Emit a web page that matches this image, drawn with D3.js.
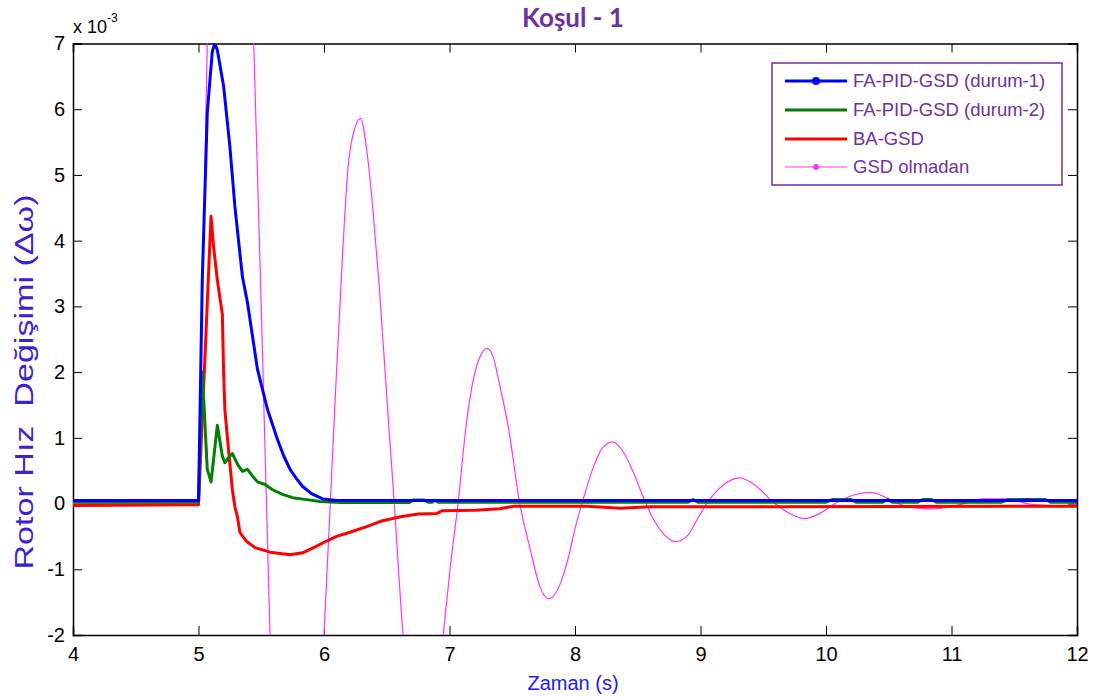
<!DOCTYPE html>
<html>
<head>
<meta charset="utf-8">
<script src="https://cdn.jsdelivr.net/npm/d3@7"></script>
<style>
  html, body { margin: 0; padding: 0; background: #fff; }
  svg { display: block; }
  text { font-family: "Liberation Sans", Arial, sans-serif; }
</style>
</head>
<body>
<svg id="chart" width="1093" height="697"></svg>
<script>
// ---- Data (values in units of 1e-3) ----
const titleText = "Koşul - 1";
const xLabel = "Zaman (s)";
const yLabel = "Rotor Hız  Değişimi (Δω)";
const xTicks = [4, 5, 6, 7, 8, 9, 10, 11, 12];
const yTicks = [-2, -1, 0, 1, 2, 3, 4, 5, 6, 7];
const seriesNames = ["FA-PID-GSD (durum-1)", "FA-PID-GSD (durum-2)", "BA-GSD", "GSD olmadan"];

const blueData = [[4,0.045],[5.0,0.045],[5.03,3.4],[5.07,5.95],[5.11,6.88],[5.13,7.0],[5.15,6.9],[5.2,6.35],[5.23,5.8],[5.25,5.43],[5.29,4.52],[5.35,3.45],[5.39,3.06],[5.43,2.55],[5.47,2.04],[5.55,1.43],[5.63,0.97],[5.68,0.72],[5.73,0.52],[5.78,0.38],[5.83,0.26],[5.9,0.15],[5.99,0.07],[6.1,0.045],[12,0.045]];

const greenData = [[4,0.025],[5.0,0.025],[5.03,2.0],[5.07,0.52],[5.1,0.33],[5.15,1.19],[5.19,0.72],[5.21,0.62],[5.24,0.7],[5.27,0.76],[5.31,0.6],[5.35,0.49],[5.39,0.52],[5.43,0.42],[5.47,0.33],[5.53,0.29],[5.59,0.21],[5.67,0.14],[5.75,0.09],[5.86,0.06],[5.97,0.03],[6.13,0.015],[6.68,0.015],[6.71,0.055],[6.79,0.055],[6.83,0.02],[6.86,0.02],[6.88,0.05],[6.91,0.02],[8.9,0.02],[8.94,0.06],[8.98,0.02],[10.0,0.02],[10.05,0.06],[10.2,0.06],[10.24,0.02],[10.45,0.02],[10.49,0.06],[10.53,0.02],[10.73,0.02],[10.77,0.06],[10.84,0.06],[10.88,0.02],[11.4,0.02],[11.45,0.06],[11.75,0.06],[11.79,0.02],[12,0.02]];

const redData = [[4,-0.03],[5.0,-0.02],[5.03,1.3],[5.06,2.6],[5.08,3.5],[5.1,4.37],[5.12,3.91],[5.15,3.4],[5.19,2.88],[5.2,2.0],[5.21,1.43],[5.24,0.8],[5.27,0.21],[5.29,-0.05],[5.31,-0.2],[5.33,-0.44],[5.38,-0.57],[5.45,-0.67],[5.57,-0.74],[5.73,-0.78],[5.83,-0.75],[5.93,-0.66],[6.02,-0.57],[6.1,-0.5],[6.2,-0.44],[6.34,-0.35],[6.45,-0.27],[6.61,-0.2],[6.75,-0.16],[6.9,-0.15],[6.94,-0.11],[7.2,-0.1],[7.4,-0.08],[7.51,-0.04],[8.1,-0.04],[8.36,-0.07],[8.6,-0.05],[12,-0.04]];

const magentaData = [[4,0],[5.0,0],[5.02,2.0],[5.05,5.0],[5.07,7.0],[5.12,11.0],[5.18,14.0],[5.25,15.0],[5.32,13.5],[5.38,10.5],[5.44,7.0],[5.5,3.0],[5.57,-2.0],[5.64,-5.5],[5.72,-7.6],[5.78,-8.0],[5.85,-7.2],[5.93,-5.0],[6.0,-2.0],[6.05,0.0],[6.09,1.63],[6.15,3.87],[6.19,5.08],[6.25,5.74],[6.29,5.86],[6.34,5.39],[6.39,4.47],[6.44,3.31],[6.5,1.63],[6.56,0.0],[6.63,-2.0],[6.7,-3.2],[6.79,-3.8],[6.87,-3.3],[6.95,-2.0],[7.01,-0.9],[7.07,0.03],[7.13,1.15],[7.19,1.89],[7.24,2.22],[7.3,2.36],[7.35,2.22],[7.39,1.89],[7.47,1.15],[7.56,0.0],[7.64,-0.67],[7.72,-1.26],[7.79,-1.45],[7.84,-1.38],[7.89,-1.18],[7.95,-0.8],[8.0,-0.38],[8.06,0.03],[8.14,0.52],[8.22,0.85],[8.3,0.94],[8.38,0.8],[8.46,0.5],[8.54,0.12],[8.62,-0.22],[8.7,-0.45],[8.8,-0.58],[8.9,-0.48],[8.98,-0.22],[9.06,0.03],[9.18,0.28],[9.31,0.39],[9.42,0.3],[9.58,0.02],[9.72,-0.16],[9.83,-0.23],[9.95,-0.15],[10.09,0.02],[10.22,0.13],[10.35,0.17],[10.47,0.1],[10.59,-0.01],[10.72,-0.07],[10.85,-0.08],[10.99,-0.05],[11.1,0.0],[11.25,0.07],[11.45,0.07],[11.6,0.0],[11.75,-0.03],[11.89,-0.05],[12,-0.02]];

// ---- Layout ----
const svg = d3.select("#chart");
const L = 73, R = 1077, T = 43.5, B = 635;
const x = d3.scaleLinear().domain([4, 12]).range([L, R]);
const y = d3.scaleLinear().domain([-2, 7]).range([B, T]);

const purple = "#7030A0";

svg.append("defs").append("clipPath").attr("id", "clip")
  .append("rect").attr("x", L).attr("y", T).attr("width", R - L).attr("height", B - T);

// Axes with inward ticks
const tickLen = 9;
const fmt = d => String(d);
const axB = d3.axisBottom(x).tickValues(xTicks).tickSize(-tickLen).tickPadding(12).tickFormat(fmt);
const axT = d3.axisTop(x).tickValues(xTicks).tickSize(-tickLen).tickFormat("");
const axL = d3.axisLeft(y).tickValues(yTicks).tickSize(-tickLen).tickPadding(8).tickFormat(fmt);
const axR = d3.axisRight(y).tickValues(yTicks).tickSize(-tickLen).tickFormat("");

function styleAxis(g) {
  g.selectAll("path.domain").attr("stroke", "#000").attr("stroke-width", 1.5);
  g.selectAll(".tick line").attr("stroke", "#000").attr("stroke-width", 1);
  g.selectAll(".tick text").attr("fill", "#000").style("font-size", "20px")
    .style("font-family", "'Liberation Sans', Arial, sans-serif");
}
svg.append("g").attr("transform", `translate(0,${B})`).call(axB).call(styleAxis);
svg.append("g").attr("transform", `translate(0,${T})`).call(axT).call(styleAxis);
svg.append("g").attr("transform", `translate(${L},0)`).call(axL).call(styleAxis);
svg.append("g").attr("transform", `translate(${R},0)`).call(axR).call(styleAxis);

// Lines
const plot = svg.append("g").attr("clip-path", "url(#clip)");
const lin = d3.line().x(d => x(d[0])).y(d => y(d[1]));
const smooth = d3.line().x(d => x(d[0])).y(d => y(d[1])).curve(d3.curveMonotoneX);

plot.append("path").datum(magentaData).attr("d", smooth)
  .attr("fill", "none").attr("stroke", "#FF33FF").attr("stroke-width", 1.2);
plot.append("path").datum(redData).attr("d", lin)
  .attr("fill", "none").attr("stroke", "#FF0000").attr("stroke-width", 3).attr("stroke-linejoin", "round");
plot.append("path").datum(greenData).attr("d", lin)
  .attr("fill", "none").attr("stroke", "#008000").attr("stroke-width", 3).attr("stroke-linejoin", "round");
plot.append("path").datum(blueData).attr("d", lin)
  .attr("fill", "none").attr("stroke", "#0000FF").attr("stroke-width", 3).attr("stroke-linejoin", "round");

// Exponent label
const ex = svg.append("text").attr("x", 73).attr("y", 33).attr("fill", "#000").style("font-size", "18px");
ex.append("tspan").text("x 10");
ex.append("tspan").attr("dy", -11).style("font-size", "12px").text("-3");

// Title
svg.append("text").attr("x", 573).attr("y", 27).attr("text-anchor", "middle")
  .attr("fill", purple).style("font-family", "Lato, 'Open Sans', sans-serif")
  .style("font-weight", "bold").style("font-size", "26px").text(titleText);

// Axis labels
svg.append("text").attr("x", 573).attr("y", 690).attr("text-anchor", "middle")
  .attr("fill", "#2020F0").style("font-size", "20px").text(xLabel);
svg.append("text").attr("transform", "translate(33,382) rotate(-90)").attr("text-anchor", "middle")
  .attr("fill", "#3A24D0").style("font-size", "25px").style("white-space", "pre")
  .attr("textLength", 375).attr("lengthAdjust", "spacingAndGlyphs").text(yLabel);

// Legend
const lg = svg.append("g");
lg.append("rect").attr("x", 772).attr("y", 63).attr("width", 290).attr("height", 122)
  .attr("fill", "#fff").attr("stroke", purple).attr("stroke-width", 1.5);
const legColors = ["#0000FF", "#008000", "#FF0000", "#FF33FF"];
const legWidths = [3, 3, 3, 1.2];
const legMarker = [4, 0, 0, 3];
const rows = [81, 110, 139, 167];
seriesNames.forEach((name, i) => {
  const yy = rows[i];
  lg.append("line").attr("x1", 785).attr("x2", 847).attr("y1", yy).attr("y2", yy)
    .attr("stroke", legColors[i]).attr("stroke-width", legWidths[i]);
  if (legMarker[i] > 0) {
    lg.append("circle").attr("cx", 816).attr("cy", yy).attr("r", legMarker[i]).attr("fill", legColors[i]);
  }
  lg.append("text").attr("x", 853).attr("y", yy + 6).attr("fill", purple)
    .style("font-size", "18.5px").text(name);
});
</script>
</body>
</html>
